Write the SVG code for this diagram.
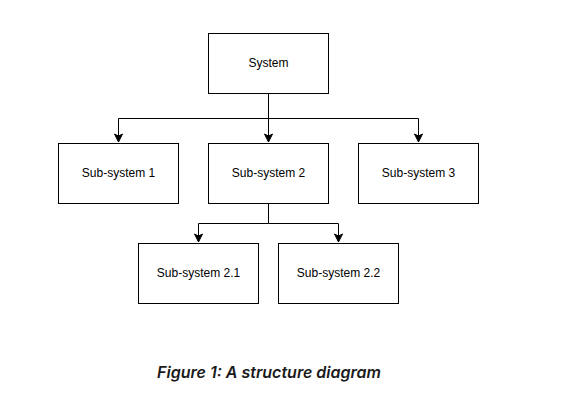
<svg xmlns="http://www.w3.org/2000/svg" width="564" height="410" viewBox="0 0 564 410">
<style>
.node rect{fill:#fff;stroke:#000;stroke-width:1}
.node text{font-family:"Liberation Sans",Arial,sans-serif;font-size:12px;fill:#000;text-anchor:middle;dominant-baseline:central}
.edge{fill:none;stroke:#000;stroke-width:1}
.cap{font-family:"Inter","Open Sans",sans-serif;font-size:16px;font-weight:600;font-style:italic;fill:#1a1a1a;text-anchor:middle}
</style>
<defs>
<marker id="arr" markerUnits="userSpaceOnUse" markerWidth="10" markerHeight="10" viewBox="0 0 10 10" refX="9" refY="5" orient="auto">
<path d="M1,1 L9,5 L1,9 L3,5 Z" fill="#000" stroke="#000" stroke-width="1"/>
</marker>
</defs>
<rect width="564" height="410" fill="#fff"/>
<g id="connectors">
<path class="edge" d="M268.5,93.5 V118.5 H118.5 V142" marker-end="url(#arr)"/>
<path class="edge" d="M268.5,93.5 V142" marker-end="url(#arr)"/>
<path class="edge" d="M268.5,118.5 H418.5 V142" marker-end="url(#arr)"/>
<path class="edge" d="M268.5,203.5 V223.5 H198.5 V242" marker-end="url(#arr)"/>
<path class="edge" d="M268.5,223.5 H338.5 V242" marker-end="url(#arr)"/>
</g>
<g id="system" class="node"><rect x="208.5" y="33.5" width="120" height="60"/><text x="268.5" y="62.5">System</text></g>
<g id="sub1" class="node"><rect x="58.5" y="143.5" width="120" height="60"/><text x="118.5" y="172.5">Sub-system 1</text></g>
<g id="sub2" class="node"><rect x="208.5" y="143.5" width="120" height="60"/><text x="268.5" y="172.5">Sub-system 2</text></g>
<g id="sub3" class="node"><rect x="358.5" y="143.5" width="120" height="60"/><text x="418.5" y="172.5">Sub-system 3</text></g>
<g id="sub21" class="node"><rect x="138.5" y="243.5" width="120" height="60"/><text x="198.5" y="272.5">Sub-system 2.1</text></g>
<g id="sub22" class="node"><rect x="278.5" y="243.5" width="120" height="60"/><text x="338.5" y="272.5">Sub-system 2.2</text></g>
<text class="cap" x="269" y="378">Figure 1: A structure diagram</text>
</svg>
